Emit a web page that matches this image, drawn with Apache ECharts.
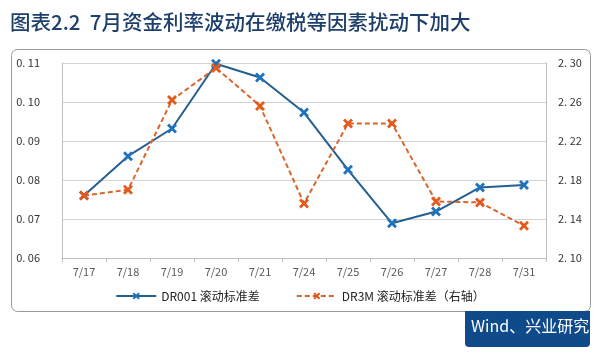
<!DOCTYPE html>
<html><head><meta charset="utf-8">
<script src="https://cdn.jsdelivr.net/npm/echarts@6/dist/echarts.min.js"></script>
<style>html,body{margin:0;padding:0;background:#fff}#c{width:600px;height:355px}</style>
</head><body><div id="c"></div>
<script>
const categories = ['7/17','7/18','7/19','7/20','7/21','7/24','7/25','7/26','7/27','7/28','7/31'];
const dr001 = [0.0760, 0.0861, 0.0932, 0.1098, 0.1063, 0.0973, 0.0826, 0.0689, 0.0719, 0.0781, 0.0787];
const dr3m = [2.164, 2.170, 2.262, 2.295, 2.256, 2.156, 2.238, 2.238, 2.158, 2.157, 2.133];
const leftTicks = [0.06, 0.11, 0.01];
const rightTicks = [2.10, 2.30, 0.04];
const names = ['DR001 滚动标准差', 'DR3M 滚动标准差（右轴）'];
const titleText = '图表2.2  7月资金利率波动在缴税等因素扰动下加大';
const sourceText = 'Wind、兴业研究';

const xMark = 'path://M2,0 L5,3 L8,0 L10,2 L7,5 L10,8 L8,10 L5,7 L2,10 L0,8 L3,5 L0,2 Z';
const fmt = (v) => v.toFixed(2).replace('.', '. ');

const chart = echarts.init(document.getElementById('c'));
chart.setOption({
  animation: false,
  backgroundColor: '#fff',
  textStyle: { fontFamily: '"Noto Sans CJK SC", "DejaVu Sans", sans-serif' },
  graphic: [
    { type: 'text', left: 10, top: 12, style: { text: titleText, fill: '#1d3f6b', font: '500 20.5px "Noto Sans CJK SC", sans-serif' } },
    { type: 'rect', shape: { x: 11.5, y: 49.5, width: 579, height: 262, r: 6 }, style: { fill: 'none', stroke: '#9a9a9a', lineWidth: 1 }, z: -1 },
    { type: 'rect', shape: { x: 465, y: 311, width: 125, height: 36, r: [0,0,4,4] }, style: { fill: '#0f4a8a' } },
    { type: 'text', left: 471, top: 318, style: { text: sourceText, fill: '#fff', font: '16px "Noto Sans CJK SC", sans-serif' } }
  ],
  grid: { left: 62, right: 54, top: 63, height: 195 },
  legend: {
    top: 285, left: 'center', itemGap: 36, itemWidth: 40, itemHeight: 9,
    textStyle: { fontSize: 12, color: '#222', fontFamily: '"Noto Sans CJK SC", sans-serif' },
    data: names
  },
  xAxis: {
    type: 'category', data: categories, boundaryGap: true,
    axisLine: { lineStyle: { color: '#bfbfbf' } },
    axisTick: { show: true, length: 4, lineStyle: { color: '#bfbfbf' } },
    axisLabel: { color: '#595959', fontSize: 11, margin: 8 }
  },
  yAxis: [
    { type: 'value', min: leftTicks[0], max: leftTicks[1], interval: leftTicks[2],
      axisLine: { show: true, lineStyle: { color: '#bfbfbf' } },
      axisTick: { show: false },
      splitLine: { lineStyle: { color: '#d4d4d4' } },
      axisLabel: { color: '#333', fontSize: 11, margin: 22, formatter: fmt } },
    { type: 'value', min: rightTicks[0], max: rightTicks[1], interval: rightTicks[2],
      axisLine: { show: true, lineStyle: { color: '#bfbfbf' } },
      axisTick: { show: false },
      splitLine: { show: false },
      axisLabel: { color: '#333', fontSize: 11, margin: 12, formatter: fmt } }
  ],
  series: [
    { name: names[0], type: 'line', yAxisIndex: 0, data: dr001,
      symbol: xMark, symbolSize: 10,
      lineStyle: { color: '#245f90', width: 2 },
      itemStyle: { color: '#1f73bd' } },
    { name: names[1], type: 'line', yAxisIndex: 1, data: dr3m,
      symbol: xMark, symbolSize: 10,
      lineStyle: { color: '#d9662a', width: 2, type: [5, 3] },
      itemStyle: { color: '#e45a1c' } }
  ]
});
</script></body></html>
